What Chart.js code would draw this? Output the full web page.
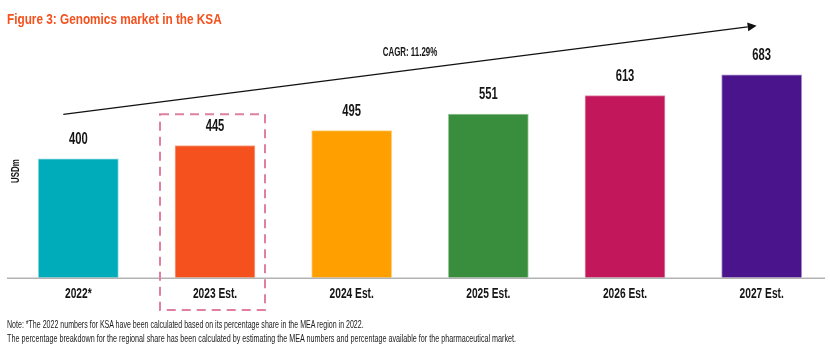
<!DOCTYPE html>
<html>
<head>
<meta charset="utf-8">
<script src="https://cdn.jsdelivr.net/npm/chart.js@4"></script>
<style>
  html, body { margin:0; padding:0; background:#fff; overflow:hidden; }
  #wrap { position:relative; width:830px; height:357px; }
  canvas { position:absolute; left:0; top:0; }
  .cond { font-family:'Liberation Sans',Arial,sans-serif; position:absolute; white-space:nowrap; transform-origin:0 0; }
  #title { left:7px; top:10px; font-size:15.5px; font-weight:bold; color:#F4511E; transform:scaleX(0.76); }
  #note1 { left:7px; top:319px; font-size:10px; color:#1a1a1a; transform:scaleX(0.705); }
  #note2 { left:7px; top:333px; font-size:10px; color:#1a1a1a; transform:scaleX(0.72); }
</style>
</head>
<body>
<div id="wrap">
  <canvas id="c" width="830" height="357"></canvas>
  <div class="cond" id="title">Figure 3: Genomics market in the KSA</div>
  <div class="cond" id="note1">Note: *The 2022 numbers for KSA have been calculated based on its percentage share in the MEA region in 2022.</div>
  <div class="cond" id="note2">The percentage breakdown for the regional share has been calculated by estimating the MEA numbers and percentage available for the pharmaceutical market.</div>
</div>
<script>
const categories = ['2022*', '2023 Est.', '2024 Est.', '2025 Est.', '2026 Est.', '2027 Est.'];
const values = [400, 445, 495, 551, 613, 683];
const barColors = ['#00ABBA', '#F4511E', '#FFA000', '#388E3C', '#C2185B', '#4A148C'];
const borderColors = ['#7FD5DC', '#F9A88E', '#FFD07F', '#9BC69D', '#E08BAD', '#A489C5'];
const cagrLabel = 'CAGR: 11.29%';
const yTitle = 'USDm';
const highlightIndex = 1;

const FONT = "'Liberation Sans',Arial,sans-serif";

function condText(ctx, text, x, y, sx) {
  ctx.save();
  ctx.translate(x, y);
  ctx.scale(sx, 1);
  ctx.fillText(text, 0, 0);
  ctx.restore();
}

const overlay = {
  id: 'overlay',
  afterDatasetsDraw(chart) {
    const ctx = chart.ctx;
    const xs = chart.scales.x, ys = chart.scales.y;
    const meta = chart.getDatasetMeta(0);
    ctx.save();
    // axis line
    ctx.strokeStyle = '#b3b3b3';
    ctx.lineWidth = 1.6;
    ctx.beginPath();
    ctx.moveTo(7, chart.chartArea.bottom + 0.5);
    ctx.lineTo(825, chart.chartArea.bottom + 0.5);
    ctx.stroke();
    ctx.fillStyle = '#151515';
    ctx.textAlign = 'center';
    ctx.textBaseline = 'middle';
    // category labels
    ctx.font = 'bold 15px ' + FONT;
    categories.forEach((c, i) => {
      condText(ctx, c, xs.getPixelForValue(i), chart.chartArea.bottom + 16, 0.68);
    });
    // value labels
    ctx.font = 'bold 16px ' + FONT;
    meta.data.forEach((bar, i) => {
      condText(ctx, String(values[i]), bar.x, bar.y - 19, 0.7);
    });
    // highlight dashed box
    const hb = meta.data[highlightIndex];
    ctx.strokeStyle = '#E07FA3';
    ctx.lineWidth = 2;
    ctx.setLineDash([9, 6]);
    const bx0 = hb.x - 55, bx1 = hb.x + 50;
    const by0 = ys.getPixelForValue(550), by1 = 310;
    ctx.strokeRect(bx0, by0, bx1 - bx0, by1 - by0);
    ctx.setLineDash([]);
    // CAGR arrow
    const x0 = xs.getPixelForValue(0) - 15, y0 = ys.getPixelForValue(550);
    const x1 = xs.getPixelForValue(5) - 5, y1 = ys.getPixelForValue(848);
    ctx.strokeStyle = '#111';
    ctx.fillStyle = '#111';
    ctx.lineWidth = 1.3;
    const ang = Math.atan2(y1 - y0, x1 - x0);
    const hl = 9, hw = 4.5;
    const bxh = x1 - hl * Math.cos(ang), byh = y1 - hl * Math.sin(ang);
    ctx.beginPath();
    ctx.moveTo(x0, y0);
    ctx.lineTo(bxh, byh);
    ctx.stroke();
    ctx.beginPath();
    ctx.moveTo(x1, y1);
    ctx.lineTo(bxh + hw * Math.sin(ang), byh - hw * Math.cos(ang));
    ctx.lineTo(bxh - hw * Math.sin(ang), byh + hw * Math.cos(ang));
    ctx.closePath();
    ctx.fill();
    // CAGR label
    ctx.fillStyle = '#151515';
    ctx.font = 'bold 12px ' + FONT;
    condText(ctx, cagrLabel, 410, 53, 0.66);
    // y title
    ctx.translate(16, 171);
    ctx.rotate(-Math.PI / 2);
    ctx.font = 'bold 11px ' + FONT;
    condText(ctx, yTitle, 0, 0, 0.72);
    ctx.restore();
  }
};

new Chart(document.getElementById('c'), {
  type: 'bar',
  data: {
    labels: categories,
    datasets: [{
      data: values,
      backgroundColor: barColors,
      borderColor: borderColors,
      borderWidth: 1,
      barThickness: 80
    }]
  },
  options: {
    responsive: false,
    animation: false,
    layout: { padding: { left: 10, right: 0, top: 40, bottom: 0 } },
    plugins: { legend: { display: false }, tooltip: { enabled: false } },
    scales: {
      x: {
        grid: { display: false },
        border: { display: false },
        ticks: { display: false },
        afterFit(s) { s.height = 79.3; }
      },
      y: { display: false, min: 0, max: 800 }
    }
  },
  plugins: [overlay]
});
</script>
</body>
</html>
